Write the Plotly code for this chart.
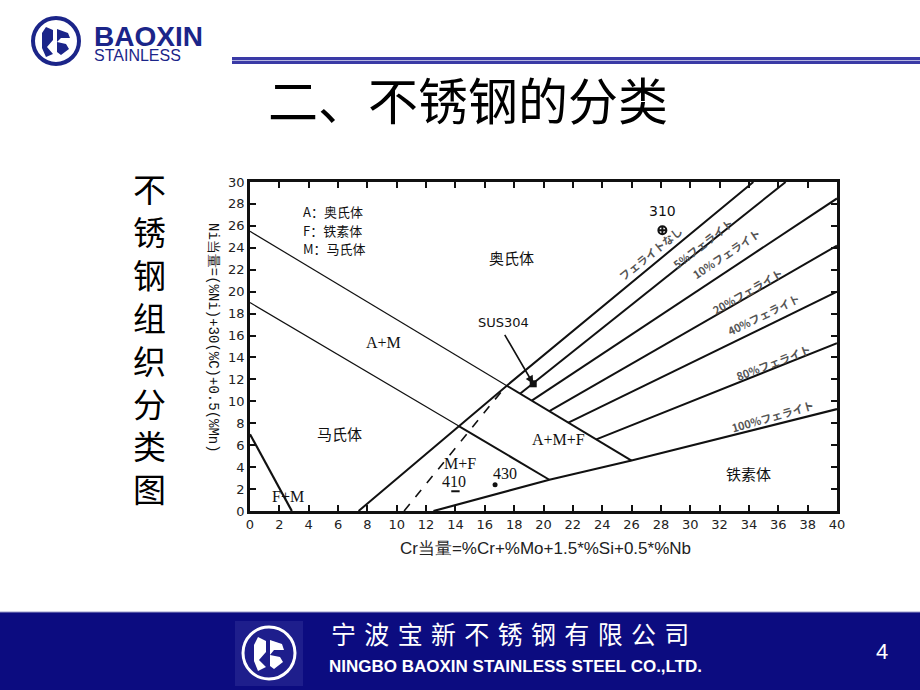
import plotly.graph_objects as go

# ---------------- data (Schaeffler diagram) ----------------
x_ticks = list(range(0, 41, 2))
y_ticks = list(range(0, 31, 2))

# A / A+M boundary (thin) and A+M+F upper boundary (thick)
am_upper_x = [0, 17.5]
am_upper_y = [25.5, 11.43]
amf_upper_x = [17.5, 26.0]
amf_upper_y = [11.43, 4.6]

# A+M / M boundary (thin) and M+F / A+M+F boundary (thick)
am_lower_x = [0, 14.2]
am_lower_y = [19.0, 7.77]
mf_upper_x = [14.2, 20.4]
mf_upper_y = [7.77, 2.85]

# M / M+F boundary continuing as the 0% ferrite line
ferrite0_x = [7.4, 17.5, 34.3]
ferrite0_y = [0, 11.43, 30]

# F boundary (100% ferrite line)
ferrite100_x = [12.5, 20.4, 26.0, 40]
ferrite100_y = [0, 2.85, 4.6, 9.3]

# intermediate ferrite lines: 5, 10, 20, 40, 80 %
fan_start_x = [18.4, 19.2, 20.4, 21.7, 23.6]
fan_start_y = [10.7, 10.06, 9.1, 8.05, 6.53]
fan_end_x = [36.5, 40, 40, 40, 40]
fan_end_y = [30, 28.5, 24.2, 20.0, 15.3]

# dashed line and F+M line
dash_x = [10.5, 17.2]
dash_y = [0, 11.0]
fm_x = [0, 2.85]
fm_y = [7.0, 0]

# steel grades
grade_names = ["310", "SUS304", "410", "430"]
grade_x = [28.1, 19.3, 14.0, 16.7]
grade_y = [25.6, 11.6, 1.8, 2.4]

# ferrite labels
ferrite_labels = ["フェライトなし", "5%フェライト", "10%フェライト", "20%フェライト",
                  "40%フェライト", "80%フェライト", "100%フェライト"]
ferrite_lab_x = [27.3, 30.9, 32.5, 33.9, 35.0, 35.7, 35.6]
ferrite_lab_y = [23.5, 24.4, 23.5, 20.1, 18.0, 13.6, 8.7]
ferrite_lab_ang = [-39, -38, -34, -30, -26, -21, -16]

# region labels
region_names = ["奥氏体", "A+M", "马氏体", "A+M+F", "M+F", "F+M", "铁素体"]
region_x = [17.8, 9.1, 6.1, 21.0, 14.3, 2.6, 34.0]
region_y = [23.1, 15.4, 7.1, 6.5, 4.3, 1.3, 3.4]

legend_lines = ["A：奥氏体", "F：铁素体", "M：马氏体"]
legend_y = [27.3, 25.6, 23.9]

# ---------------- layout geometry ----------------
W, H = 920, 690
L, R, T, B = 250, 837, 182, 511


def px(x):
    return (x - L) / (R - L)


def py(y):
    return (B - y) / (B - T)


def path(points):
    s = "M " + " L ".join(f"{px(a):.5f},{py(b):.5f}" for a, b in points)
    return s + " Z"


fig = go.Figure()
BLK = "#111111"


def seg(x, y, w, dash="solid"):
    fig.add_trace(go.Scatter(x=x, y=y, mode="lines", line=dict(color=BLK, width=w, dash=dash),
                             hoverinfo="skip", showlegend=False))


seg(am_upper_x, am_upper_y, 1.2)
seg(amf_upper_x, amf_upper_y, 2)
seg(am_lower_x, am_lower_y, 1.2)
seg(mf_upper_x, mf_upper_y, 2)
seg(ferrite0_x, ferrite0_y, 2)
seg(ferrite100_x, ferrite100_y, 2.2)
for i in range(len(fan_start_x)):
    seg([fan_start_x[i], fan_end_x[i]], [fan_start_y[i], fan_end_y[i]], 2)
seg(dash_x, dash_y, 1.6, "dash")
seg(fm_x, fm_y, 2.2)

# grade markers
fig.add_trace(go.Scatter(x=[grade_x[0]], y=[grade_y[0]], mode="markers",
                         marker=dict(symbol="circle-cross-open", size=8, color=BLK, line=dict(width=2)),
                         showlegend=False, hoverinfo="skip"))
fig.add_trace(go.Scatter(x=[grade_x[1]], y=[grade_y[1]], mode="markers",
                         marker=dict(symbol="square", size=7, color=BLK),
                         showlegend=False, hoverinfo="skip"))
fig.add_trace(go.Scatter(x=[grade_x[2]], y=[grade_y[2]], mode="markers",
                         marker=dict(symbol="line-ew", size=6, color=BLK, line=dict(width=2, color=BLK)),
                         showlegend=False, hoverinfo="skip"))
fig.add_trace(go.Scatter(x=[grade_x[3]], y=[grade_y[3]], mode="markers",
                         marker=dict(symbol="circle", size=5, color=BLK),
                         showlegend=False, hoverinfo="skip"))

ann = []
SERIF = "Liberation Serif"
CJK = "Noto Sans CJK SC"


def A(**kw):
    kw.setdefault("showarrow", False)
    kw.setdefault("xanchor", "center")
    kw.setdefault("yanchor", "middle")
    ann.append(kw)


# grade labels
A(x=grade_x[0], y=27.4, text=grade_names[0], font=dict(family="DejaVu Sans", size=14, color=BLK))
ann.append(dict(x=grade_x[1], y=grade_y[1], ax=17.3, ay=16.2, axref="x", ayref="y",
                text="", showarrow=True, arrowhead=2, arrowsize=1, arrowwidth=1.6, arrowcolor=BLK))
A(x=17.3, y=17.2, text=grade_names[1], font=dict(family="DejaVu Sans", size=13, color=BLK))
A(x=13.9, y=2.7, text=grade_names[2], font=dict(family=SERIF, size=16, color=BLK))
A(x=17.4, y=3.4, text=grade_names[3], font=dict(family=SERIF, size=16, color=BLK))

for name, x, y in zip(region_names, region_x, region_y):
    fam = CJK if ord(name[0]) > 255 else SERIF
    A(x=x, y=y, text=name, font=dict(family=fam, size=15 if fam == CJK else 16, color=BLK))

for t, y in zip(legend_lines, legend_y):
    A(x=3.5, y=y, text=t, xanchor="left", font=dict(family=CJK, size=13, color=BLK))

for t, x, y, a in zip(ferrite_labels, ferrite_lab_x, ferrite_lab_y, ferrite_lab_ang):
    A(x=x, y=y, text=t, textangle=a,
      font=dict(family="Noto Sans CJK JP", size=11, color="#555555", weight="bold"))

# axis titles
A(xref="paper", yref="paper", x=px(213), y=py(338),
  text="Ni当量=(%Ni)+30(%C)+0.5(%Mn)", textangle=90,
  font=dict(family="Liberation Mono", size=14, color=BLK))
A(xref="paper", yref="paper", x=px(545), y=py(548),
  text="Cr当量=%Cr+%Mo+1.5*%Si+0.5*%Nb",
  font=dict(family="Liberation Sans", size=17, color="#222222"))

# slide texts
NAVY = "#1b2589"
A(xref="paper", yref="paper", x=px(468), y=py(98), text="二、不锈钢的分类",
  font=dict(family=CJK, size=50, color="#000000"))
A(xref="paper", yref="paper", x=px(149), y=py(338),
  text="<br>".join("不锈钢组织分类图"),
  font=dict(family=CJK, size=33, color="#000000"))
A(xref="paper", yref="paper", x=px(92), y=py(36), xanchor="left",
  text="<b>BAOXIN</b>", font=dict(family="Liberation Sans", size=28, color=NAVY))
A(xref="paper", yref="paper", x=px(92), y=py(56), xanchor="left",
  text="STAINLESS", font=dict(family="Liberation Sans", size=16, color=NAVY))
A(xref="paper", yref="paper", x=px(510), y=py(633),
  text="\u2004".join("宁波宝新不锈钢有限公司"),
  font=dict(family=CJK, size=25, color="#ffffff"))
A(xref="paper", yref="paper", x=px(515), y=py(666),
  text="<b>NINGBO BAOXIN STAINLESS STEEL CO.,LTD.</b>",
  font=dict(family="Liberation Sans Narrow, Liberation Sans", size=17, color="#ffffff"))
A(xref="paper", yref="paper", x=px(882), y=py(651),
  text="4", font=dict(family="Liberation Sans", size=22, color="#ffffff"))

shapes = []
# bottom band
shapes.append(dict(type="rect", xref="paper", yref="paper", x0=px(0), x1=px(920), y0=py(690), y1=py(612),
                   fillcolor="#0c0c80", line=dict(width=0), layer="below"))
shapes.append(dict(type="line", xref="paper", yref="paper", x0=px(0), x1=px(920), y0=py(612), y1=py(612),
                   line=dict(color="#9a9ac8", width=1)))
# bottom logo
shapes.append(dict(type="rect", xref="paper", yref="paper", x0=px(235), x1=px(303), y0=py(686), y1=py(621),
                   fillcolor="#1e1e8c", line=dict(width=0)))
shapes.append(dict(type="circle", xref="paper", yref="paper", x0=px(243), x1=px(295), y0=py(679), y1=py(627),
                   line=dict(color="#ffffff", width=3)))
shapes.append(dict(type="path", xref="paper", yref="paper",
                   path=path([(258, 637), (266, 641), (266, 652), (259, 660), (266, 667), (258, 671), (254, 661), (254, 645)]),
                   fillcolor="#ffffff", line=dict(width=0)))
shapes.append(dict(type="path", xref="paper", yref="paper",
                   path=path([(270, 640), (282, 644), (284, 650), (274, 650), (270, 655), (280, 657), (283, 662), (274, 669), (270, 666)]),
                   fillcolor="#ffffff", line=dict(width=0)))
# top logo
shapes.append(dict(type="circle", xref="paper", yref="paper", x0=px(33), x1=px(79), y0=py(64), y1=py(18),
                   line=dict(color=NAVY, width=4)))
shapes.append(dict(type="path", xref="paper", yref="paper",
                   path=path([(46, 27), (53, 30), (53, 40), (47, 47), (53, 54), (46, 57), (42, 48), (42, 33)]),
                   fillcolor=NAVY, line=dict(width=0)))
shapes.append(dict(type="path", xref="paper", yref="paper",
                   path=path([(57, 29), (68, 33), (70, 38), (61, 38), (57, 42), (66, 44), (69, 49), (61, 55), (57, 52)]),
                   fillcolor=NAVY, line=dict(width=0)))
# top rule
shapes.append(dict(type="rect", xref="paper", yref="paper", x0=px(232), x1=px(920), y0=py(64), y1=py(57),
                   fillcolor="#3a3aa6", line=dict(width=0)))
shapes.append(dict(type="line", xref="paper", yref="paper", x0=px(232), x1=px(920), y0=py(60.5), y1=py(60.5),
                   line=dict(color="#b4b4e0", width=1)))

axis_common = dict(showgrid=False, zeroline=False, showline=True, linecolor=BLK, linewidth=2.5,
                   mirror="ticks", ticks="inside", ticklen=6, tickwidth=1.5, tickcolor=BLK,
                   tickfont=dict(family="DejaVu Sans", size=13, color="#222222"))

fig.update_layout(
    width=W, height=H,
    margin=dict(l=L, r=W - R, t=T, b=H - B, pad=0),
    paper_bgcolor="#ffffff", plot_bgcolor="#ffffff",
    xaxis=dict(range=[0, 40], tickvals=x_ticks, ticktext=[str(v) for v in x_ticks], **axis_common),
    yaxis=dict(range=[0, 30], tickvals=y_ticks, ticktext=[str(v) for v in y_ticks], **axis_common),
    annotations=ann, shapes=shapes, showlegend=False,
)

fig.write_html("out.html")
